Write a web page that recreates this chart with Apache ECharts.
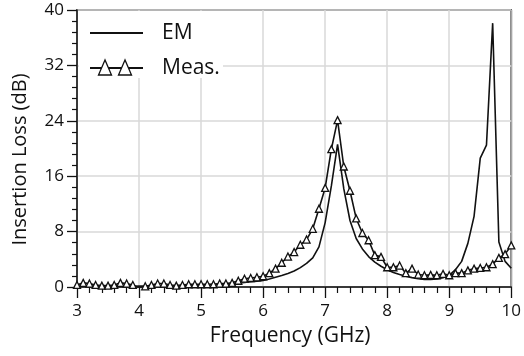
<!DOCTYPE html>
<html><head><meta charset="utf-8">
<script src="https://cdn.jsdelivr.net/npm/echarts@6/dist/echarts.min.js"></script>
<style>html,body{margin:0;padding:0;background:#fff}#c{width:524px;height:356px}</style>
</head><body><div id="c"></div>
<script>
// Frequency grid (GHz), 0.1 GHz step
const freq = [];
for (let i = 0; i <= 70; i++) freq.push(+(3 + i * 0.1).toFixed(1));

// EM simulated insertion loss (dB)
const emValues = [
 0.1,0.1,0.1,0.1,0.1,0.1,0.1,0.1,0.1,0.1,
 0.12,0.13,0.14,0.15,0.16,0.17,0.18,0.2,0.22,0.24,
 0.26,0.3,0.34,0.38,0.42,0.48,0.55,0.65,0.75,0.85,
 0.95,1.15,1.4,1.65,1.95,2.3,2.8,3.4,4.2,5.8,
 9.3,14.6,20.6,14.2,9.6,7.0,5.5,4.4,3.6,3.0,
 2.5,2.1,1.8,1.55,1.35,1.2,1.1,1.1,1.15,1.35,
 1.7,2.5,3.7,6.3,10.2,18.6,20.5,38.1,6.5,3.7,
 2.7
];

// Measured insertion loss (dB)
const measValues = [
 0.3,0.6,0.5,0.3,0.2,0.2,0.3,0.6,0.5,0.3,
 -0.1,0.1,0.3,0.5,0.5,0.3,0.2,0.3,0.4,0.4,
 0.4,0.4,0.4,0.5,0.5,0.6,0.9,1.2,1.3,1.4,
 1.55,2.0,2.65,3.5,4.4,5.05,6.1,6.85,8.4,11.3,
 14.3,19.9,24.1,17.4,13.9,9.9,7.8,6.75,4.6,4.35,
 2.85,2.85,3.1,2.0,2.65,1.8,1.7,1.75,1.7,1.9,
 1.7,2.0,2.0,2.4,2.65,2.75,2.85,3.3,4.2,4.75,
 6.0
];

const xTicks = [3,4,5,6,7,8,9,10];
const yTicks = [0,8,16,24,32,40];
const seriesNames = ['EM', 'Meas.'];

const emData = freq.map((f, i) => [f, emValues[i]]);
const measData = freq.map((f, i) => [f, measValues[i]]);

const FONT = '"Open Sans", "DejaVu Sans", sans-serif';
const INK = '#111';
const chart = echarts.init(document.getElementById('c'), null, {renderer: 'canvas'});

const tri = (cx, cy) => ({
  type: 'polygon',
  shape: {points: [[cx, cy - 8], [cx - 6.5, cy + 7], [cx + 6.5, cy + 7]]},
  style: {fill: '#fff', stroke: INK, lineWidth: 1.3},
  z: 10
});

chart.setOption({
  animation: false,
  backgroundColor: '#fff',
  grid: {left: 77, right: 8, top: 10, bottom: 69, show: true, borderColor: INK, borderWidth: 1.5, backgroundColor: 'transparent'},
  xAxis: {
    type: 'value', min: xTicks[0], max: xTicks[xTicks.length - 1], interval: 1,
    name: 'Frequency (GHz)', nameLocation: 'middle', nameGap: 39,
    nameTextStyle: {fontFamily: FONT, fontSize: 21, color: INK, padding: [0, 8, 0, 0]},
    axisLine: {show: true, lineStyle: {color: INK, width: 1.5}},
    axisTick: {show: true, inside: false, length: 11, lineStyle: {color: INK, width: 1.3}},
    minorTick: {show: true, splitNumber: 5, length: 6, lineStyle: {color: INK, width: 1.2}},
    axisLabel: {fontFamily: FONT, fontSize: 17, color: INK, margin: 16},
    splitLine: {show: true, lineStyle: {color: '#d8d8d8', width: 1.5}}
  },
  yAxis: {
    type: 'value', min: yTicks[0], max: yTicks[yTicks.length - 1], interval: 8,
    name: 'Insertion Loss (dB)', nameLocation: 'middle', nameGap: 47,
    nameTextStyle: {fontFamily: FONT, fontSize: 20, color: INK, padding: [0, 22, 0, 0]},
    axisLine: {show: true, lineStyle: {color: INK, width: 1.5}},
    axisTick: {show: true, inside: false, length: 10, lineStyle: {color: INK, width: 1.3}},
    minorTick: {show: true, splitNumber: 5, length: 5, lineStyle: {color: INK, width: 1.2}},
    axisLabel: {fontFamily: FONT, fontSize: 17, color: INK, margin: 13},
    splitLine: {show: true, lineStyle: {color: '#d8d8d8', width: 1.5}}
  },
  series: [
    {name: seriesNames[0], type: 'line', data: emData, showSymbol: false, symbol: 'none',
     lineStyle: {color: INK, width: 1.6}, z: 3},
    {name: seriesNames[1], type: 'line', data: measData, symbol: 'triangle', symbolSize: [7, 7],
     itemStyle: {color: '#fff', borderColor: INK, borderWidth: 1.3},
     lineStyle: {color: INK, width: 1.6}, z: 4}
  ],
  graphic: [
    {type: 'rect', shape: {x: 79, y: 11, width: 144, height: 67}, style: {fill: '#fff'}, z: 5},
    {type: 'line', shape: {x1: 90, y1: 33, x2: 143, y2: 33}, style: {stroke: INK, lineWidth: 2}, z: 6},
    {type: 'text', x: 162, y: 33, style: {text: seriesNames[0], font: '21px ' + FONT, fill: INK, verticalAlign: 'middle'}, z: 6},
    {type: 'line', shape: {x1: 90, y1: 68, x2: 143, y2: 68}, style: {stroke: INK, lineWidth: 2}, z: 6},
    tri(105, 68), tri(125, 68),
    {type: 'text', x: 162, y: 68, style: {text: seriesNames[1], font: '21px ' + FONT, fill: INK, verticalAlign: 'middle'}, z: 6}
  ]
});
</script></body></html>
